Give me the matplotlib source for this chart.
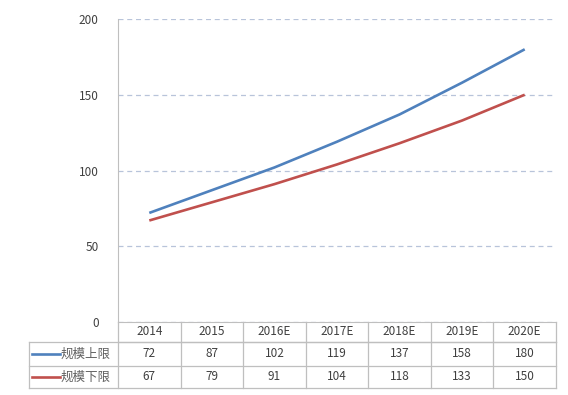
import matplotlib.pyplot as plt
import matplotlib.transforms as mtransforms

plt.rcParams['font.family'] = ['Noto Sans CJK SC', 'DejaVu Sans']

# Data
years = ['2014', '2015', '2016E', '2017E', '2018E', '2019E', '2020E']
upper = [72, 87, 102, 119, 137, 158, 180]
lower = [67, 79, 91, 104, 118, 133, 150]
series_names = ['规模上限', '规模下限']
colors = ['#4F81BD', '#C0504D']

grid_col = '#B8C4DA'
line_col = '#BFBFBF'
text_col = '#404040'

fig = plt.figure(figsize=(5.68, 3.95), dpi=100)
ax = fig.add_axes([118 / 568, (395 - 322) / 395, 438 / 568, 303 / 395])

x = list(range(len(years)))
ax.plot(x, upper, color=colors[0], lw=1.9, solid_capstyle='butt')
ax.plot(x, lower, color=colors[1], lw=1.9, solid_capstyle='butt')

ax.set_xlim(-0.5, len(years) - 0.5)
ax.set_ylim(0, 200)
ax.set_yticks([0, 50, 100, 150, 200])
ax.yaxis.grid(True, color=grid_col, ls=(0, (4, 3)), lw=0.9)
ax.set_axisbelow(True)
ax.tick_params(axis='y', length=0, pad=14, labelsize=8.5, labelcolor=text_col)
ax.set_xticks([])
for s in ['top', 'right']:
    ax.spines[s].set_visible(False)
ax.spines['left'].set_color(line_col)
ax.spines['bottom'].set_color(line_col)

# data table under the chart
trans = mtransforms.blended_transform_factory(ax.transData, ax.transAxes)
y_head = [0, -0.066]
y_r1 = [-0.066, -0.145]
y_r2 = [-0.145, -0.218]
xl, xr = -0.5, len(years) - 0.5
x_lab = xl - 0.203 * len(years)

kw = dict(transform=trans, color=line_col, lw=0.9, clip_on=False)
# horizontal lines
ax.plot([xl, xr], [y_head[1]] * 2, **kw)
ax.plot([x_lab, xr], [y_head[1]] * 2, **kw)
ax.plot([x_lab, xr], [y_r1[1]] * 2, **kw)
ax.plot([x_lab, xr], [y_r2[1]] * 2, **kw)
# vertical lines
ax.plot([x_lab, x_lab], [y_head[1], y_r2[1]], **kw)
for i in range(len(years) + 1):
    ax.plot([xl + i, xl + i], [0, y_r2[1]], **kw)

fs = 8.5
for i, yr in enumerate(years):
    ax.text(i, sum(y_head) / 2, yr, transform=trans, ha='center', va='center',
            fontsize=fs, color=text_col)
    ax.text(i, sum(y_r1) / 2, str(upper[i]), transform=trans, ha='center',
            va='center', fontsize=fs, color=text_col)
    ax.text(i, sum(y_r2) / 2, str(lower[i]), transform=trans, ha='center',
            va='center', fontsize=fs, color=text_col)

for name, c, yy in zip(series_names, colors, [y_r1, y_r2]):
    ym = sum(yy) / 2
    ax.plot([-1.87, -1.43], [ym, ym], transform=trans, color=c,
            lw=1.9, clip_on=False)
    ax.text(-0.62, ym, name, transform=trans, ha='right', va='center',
            fontsize=9, color='#606060')

fig.savefig('out.png', dpi=100)
